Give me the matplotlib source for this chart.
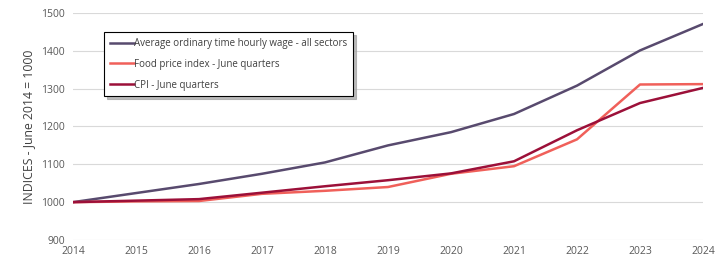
import matplotlib

matplotlib.use("Agg")
import matplotlib.pyplot as plt

years = [2014, 2015, 2016, 2017, 2018, 2019, 2020, 2021, 2022, 2023, 2024]
wage = [1000, 1024, 1048, 1075, 1105, 1150, 1185, 1233, 1308, 1401, 1471]
food = [1000, 1002, 1003, 1022, 1030, 1040, 1075, 1095, 1166, 1311, 1312]
cpi = [1000, 1004, 1008, 1025, 1042, 1058, 1076, 1108, 1190, 1262, 1302]

series = [
    ("Average ordinary time hourly wage - all sectors", wage, "#584a6e"),
    ("Food price index - June quarters", food, "#f0605a"),
    ("CPI - June quarters", cpi, "#9c1039"),
]

plt.rcParams["font.family"] = ["Open Sans", "DejaVu Sans"]

fig = plt.figure(figsize=(7.24, 2.6), dpi=100)
ax = fig.add_axes([0.1008, 0.077, 0.8702, 0.873])

for label, values, color in series:
    ax.plot(years, values, color=color, linewidth=1.8, label=label)

ax.set_xlim(2014, 2024)
ax.set_ylim(900, 1500)
ax.set_xticks(years)
ax.set_yticks(range(900, 1501, 100))
ax.grid(axis="y", color="#d9d9d9", linewidth=0.8)
ax.set_axisbelow(True)
for side in ["top", "right", "left", "bottom"]:
    ax.spines[side].set_visible(False)
ax.tick_params(length=0, labelsize=7.5, labelcolor="#595959", pad=6)
ax.tick_params(axis="x", pad=4)
ax.set_ylabel("INDICES - June 2014 = 1000", fontsize=8.8, color="#404040", labelpad=4)

leg = ax.legend(loc="upper left", bbox_to_anchor=(0.05, 0.915), borderaxespad=0,
                fontsize=7.0, frameon=True, fancybox=False,
                shadow={"color": "#a0a0a0", "alpha": 0.7},
                handlelength=2.4, handletextpad=0.0, labelspacing=1.0, borderpad=0.6)
leg.get_frame().set_edgecolor("#000000")
leg.get_frame().set_linewidth(0.8)
for text in leg.get_texts():
    text.set_color("#404040")

fig.savefig("out.png", dpi=100)
